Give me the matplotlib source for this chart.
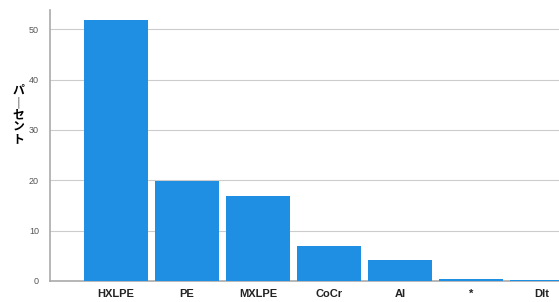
import matplotlib
matplotlib.use("Agg")
import matplotlib.pyplot as plt

categories = ["HXLPE", "PE", "MXLPE", "CoCr", "Al", "*", "Dlt"]
percent = [51.8, 19.8, 16.9, 6.9, 4.2, 0.4, 0.1]

plt.rcParams['font.family'] = ['Liberation Sans', 'Noto Sans CJK JP', 'DejaVu Sans']

fig = plt.figure(figsize=(5.59, 3.02), dpi=100)
ax = fig.add_axes([50/559, 21/302, 1 - 50/559, 271/302])

x = list(range(len(categories)))
ax.bar(x, percent, width=0.89, color='#1e8fe2', zorder=3)

ax.set_xlim(-0.93, 6.24)
ax.set_ylim(0, 53.8)
ax.set_yticks([0, 10, 20, 30, 40, 50])
ax.set_xticks(x)
ax.set_xticklabels(categories, fontsize=8, fontweight='bold', color='#222222')
ax.tick_params(axis='x', length=0, pad=6)
ax.tick_params(axis='y', labelsize=6.5, labelcolor='#555555', length=0, pad=8)
ax.grid(axis='y', color='#cccccc', linewidth=0.8, zorder=0)

for s in ['top', 'right']:
    ax.spines[s].set_visible(False)
for s in ['left', 'bottom']:
    ax.spines[s].set_color('#aaaaaa')
    ax.spines[s].set_linewidth(1.2)

fig.text(18/559, 1 - 115/302, "パ\n｜\nセ\nン\nト", fontsize=8.5, fontweight='bold',
         family=['Noto Sans CJK JP'], ha='center', va='center', linespacing=0.95)

fig.savefig("out.png", dpi=100)
